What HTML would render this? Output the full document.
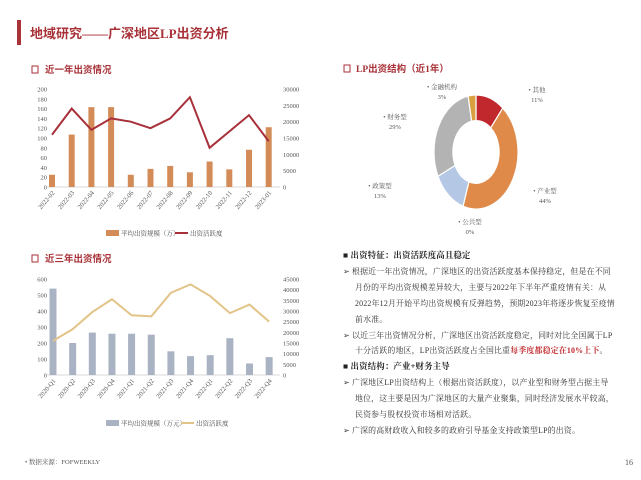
<!DOCTYPE html>
<html><head><meta charset="utf-8">
<style>
body{margin:0;width:641px;height:480px;background:#fff;overflow:hidden;font-family:"Liberation Serif","Noto Serif CJK SC","Noto Sans CJK SC",serif;position:relative}
#txt{position:absolute;left:343px;top:248px;width:290px;font-size:7.9px;letter-spacing:0.2px;color:#333;line-height:15.9px}
#txt div{white-space:nowrap}
.h{font-weight:bold;color:#222;font-size:8.4px}
.i{padding-left:12px}
</style></head><body>
<svg id="svg" width="641" height="480" style="position:absolute;left:0;top:0" font-family="Liberation Serif, Noto Serif CJK SC, serif">
<rect x="17" y="20" width="4" height="25" fill="#a83238"/>
<text x="30" y="38" font-size="13" font-weight="bold" fill="#a83238" font-family="Liberation Serif, Noto Sans CJK SC, sans-serif">地域研究——广深地区LP出资分析</text>
<g><rect x="32" y="66" width="6" height="7" fill="none" stroke="#a83238"/><text x="45" y="73" font-size="9.5" font-weight="bold" fill="#a83238" font-family="Liberation Sans, Noto Sans CJK SC, sans-serif">近一年出资情况</text></g>
<g><rect x="32" y="255" width="6" height="7" fill="none" stroke="#a83238"/><text x="45" y="262" font-size="9.5" font-weight="bold" fill="#a83238" font-family="Liberation Sans, Noto Sans CJK SC, sans-serif">近三年出资情况</text></g>
<g><rect x="344" y="65" width="6" height="7" fill="none" stroke="#a83238"/><text x="356" y="72" font-size="9.5" font-weight="bold" fill="#a83238" font-family="Liberation Serif, Noto Sans CJK SC, sans-serif">LP出资结构（近1年）</text></g>
<g id="c1"></g><g id="c2"></g><g id="pie"></g>
<text x="25" y="464" font-size="6.5" fill="#555">• 数据来源：FOFWEEKLY</text>
<text x="625" y="465" font-size="8" fill="#555">16</text>
</svg>
<div id="txt">
<div class="h">■ 出资特征：出资活跃度高且稳定</div>
<div>➢ 根据近一年出资情况，广深地区的出资活跃度基本保持稳定，但是在不同</div>
<div class="i">月份的平均出资规模差异较大，主要与2022年下半年严重疫情有关：从</div>
<div class="i">2022年12月开始平均出资规模有反弹趋势，预期2023年将逐步恢复至疫情</div>
<div class="i">前水准。</div>
<div>➢ 以近三年出资情况分析，广深地区出资活跃度稳定，同时对比全国属于LP</div>
<div class="i">十分活跃的地区，LP出资活跃度占全国比重<b style="color:#c0282d">每季度都稳定在10%上下</b>。</div>
<div class="h">■ 出资结构：产业+财务主导</div>
<div>➢ 广深地区LP出资结构上（根据出资活跃度），以产业型和财务型占据主导</div>
<div class="i">地位，这主要是因为广深地区的大量产业聚集，同时经济发展水平较高，</div>
<div class="i">民资参与股权投资市场相对活跃。</div>
<div>➢ 广深的高财政收入和较多的政府引导基金支持政策型LP的出资。</div>
</div>
<script>
const months=["2022-02","2022-03","2022-04","2022-05","2022-06","2022-07","2022-08","2022-09","2022-10","2022-11","2022-12","2023-01"];
const avgSize1=[25,107,163,163,25,37,43,30,52,36,76,122];
const activity1=[16000,24000,17500,21000,20000,18000,21000,27500,12000,17000,22000,14000];
const leftTicks1=[0,20,40,60,80,100,120,140,160,180,200];
const rightTicks1=[0,5000,10000,15000,20000,25000,30000];
const quarters=["2020-Q1","2020-Q2","2020-Q3","2020-Q4","2021-Q1","2021-Q2","2021-Q3","2021-Q4","2022-Q1","2022-Q2","2022-Q3","2022-Q4"];
const avgSize2=[540,200,265,258,258,252,148,118,124,230,72,112];
const activity2=[16000,21500,29500,35500,28000,27500,38500,42500,37000,29000,33000,25000];
const leftTicks2=[0,100,200,300,400,500,600];
const rightTicks2=[0,5000,10000,15000,20000,25000,30000,35000,40000,45000];
const pieLabels=["其他","产业型","公共型","政策型","财务型","金融机构"];
const pieValues=[11,44,0,13,29,3];
const NS="http://www.w3.org/2000/svg";
function mk(p,t,a,txt){const e=document.createElementNS(NS,t);for(const k in a)e.setAttribute(k,a[k]);if(txt!=null)e.textContent=txt;p.appendChild(e);return e;}
function chart(g,o){
 const x=i=>o.x0+i*o.step;
 const yl=v=>o.yb-(v/o.lmax)*(o.yb-o.yt);
 const yr=v=>o.yb-(v/o.rmax)*(o.yb-o.yt);
 o.lt.forEach(v=>{const t=mk(g,'text',{x:47,y:yl(v)+2.5,'font-size':6.5,fill:'#555','text-anchor':'end'},v);});
 o.rt.forEach(v=>{const t=mk(g,'text',{x:283,y:yr(v)+2.5,'font-size':6.5,fill:'#555'},v);});
 const ax=mk(g,'line',{x1:45,x2:280,y1:o.yb,y2:o.yb,stroke:'#ccc','stroke-width':0.7});
 o.bars.forEach((v,i)=>{const b=mk(g,'rect',{x:x(i)-o.bw/2,y:yl(v),width:o.bw,height:o.yb-yl(v),fill:o.bc});});
 const l=mk(g,'polyline',{points:o.line.map((v,i)=>x(i)+','+yr(v)).join(' '),fill:'none',stroke:o.lc,'stroke-width':2});
 o.cats.forEach((c,i)=>{const t=mk(g,'text',{x:x(i)+3,y:o.yb+6,'font-size':6.5,fill:'#555','text-anchor':'end',transform:`rotate(-50 ${x(i)+3} ${o.yb+6})`},c);});
 const lg=mk(g,'g',{});
 mk(lg,'rect',{x:106,y:o.ly-3,width:13,height:6,fill:o.bc});
 mk(lg,'text',{x:121,y:o.ly+2.5,'font-size':6.5,fill:'#444'},o.l1);
 mk(lg,'line',{x1:o.l2x,x2:o.l2x+13,y1:o.ly,y2:o.ly,stroke:o.lc,'stroke-width':2});
 mk(lg,'text',{x:o.l2x+15,y:o.ly+2.5,'font-size':6.5,fill:'#444'},'出资活跃度');
}
chart(document.getElementById('c1'),{x0:52,step:19.7,yt:89,yb:187,lmax:200,rmax:30000,lt:leftTicks1,rt:rightTicks1,bars:avgSize1,line:activity1,cats:months,bw:6,bc:'#d38c58',lc:'#a8303a',ly:233,l1:'平均出资规模（万）',l2x:175});
chart(document.getElementById('c2'),{x0:53,step:19.65,yt:279,yb:375,lmax:600,rmax:45000,lt:leftTicks2,rt:rightTicks2,bars:avgSize2,line:activity2,cats:quarters,bw:7,bc:'#aab3c4',lc:'#e2c488',ly:423,l1:'平均出资规模（万元）',l2x:181});
const pg=document.getElementById('pie');
const cols=["#c0282d","#e08a4a","#8fa8cf","#b4c8e6","#b3b3b3","#d8a040"];
const cx=476,cy=152,rx=42,ry=57,ir=0.55;
const tot=pieValues.reduce((a,b)=>a+b,0);
let a0=0;
const lab=[[537,92,537,102],[545,193,545,203],[470,224,470,234],[380,188,380,198],[395,119,395,129],[442,89,442,99]];
pieValues.forEach((v,i)=>{
 const a1=a0+v/tot*Math.PI*2;
 if(v>0){
 const P=(r,a)=>[cx+rx*r*Math.sin(a),cy-ry*r*Math.cos(a)];
 const [x1,y1]=P(1,a0),[x2,y2]=P(1,a1),[x3,y3]=P(ir,a1),[x4,y4]=P(ir,a0);
 const lg=(a1-a0)>Math.PI?1:0;
 const s=mk(pg,'path',{d:`M${x1},${y1}A${rx},${ry} 0 ${lg} 1 ${x2},${y2}L${x3},${y3}A${rx*ir},${ry*ir} 0 ${lg} 0 ${x4},${y4}Z`,fill:cols[i],stroke:'#fff','stroke-width':1.2});
 
 
 }
 const t=mk(pg,'text',{x:lab[i][0],y:lab[i][1],'font-size':6.5,fill:'#555','text-anchor':'middle'},'• '+pieLabels[i]);
 
 
 const p=mk(pg,'text',{x:lab[i][2],y:lab[i][3],'font-size':6.5,fill:'#555','text-anchor':'middle'},v+'%');
 
 
 a0=a1;
});
</script>
</body></html>
